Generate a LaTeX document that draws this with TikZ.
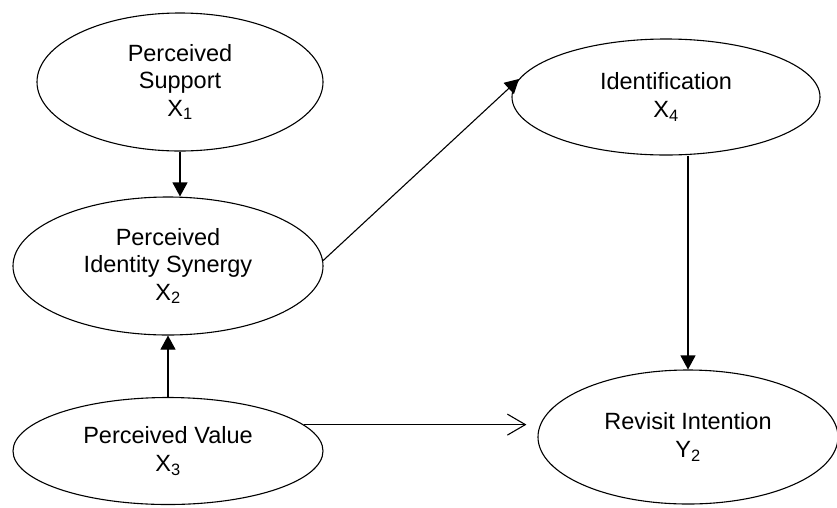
\documentclass[tikz,border=0pt]{standalone}
\usepackage{fontspec}
\setmainfont{Liberation Sans}
\usepackage{tikz}
\usetikzlibrary{positioning}
\usetikzlibrary{shapes,arrows.meta}

\begin{document}
\begin{tikzpicture}[x=1pt,y=-1pt,
  var/.style={draw,ellipse,line width=1.1pt,inner sep=0pt,align=center,
    font=\fontsize{23.5}{27.5}\selectfont},
  arr/.style={line width=1.1pt,-{Triangle[length=14pt,width=15pt]}},
  openarr/.style={line width=1.1pt,-{Straight Barb[length=18pt,width=21pt,line width=1.1pt]}}]
\useasboundingbox (0,0) rectangle (837,507);
\node[var,minimum width=286pt,minimum height=138pt] (x1) at (180,82) {Perceived\\Support\\X\textsubscript{1}};
\node[var,minimum width=310pt,minimum height=138pt] (x2) at (168,266) {Perceived\\Identity Synergy\\X\textsubscript{2}};
\node[var,minimum width=310pt,minimum height=107pt] (x3) at (168,451) {Perceived Value\\X\textsubscript{3}};
\node[var,minimum width=308pt,minimum height=116pt] (x4) at (666,97) {Identification\\X\textsubscript{4}};
\node[var,minimum width=300pt,minimum height=134pt] (y2) at (688,437) {Revisit Intention\\Y\textsubscript{2}};
% paths
\draw[arr] (x1.south) -- (x1.south |- x2.north);
\draw[arr] (x3.north) -- (x2.south);
\draw[arr] (x2.2) -- (x4.173);
\draw[arr] (y2.north |- x4.south) -- (y2.north);
\draw[openarr,shorten >=11pt] (x3.11) -- (x3.11 -| y2.west);
\end{tikzpicture}
\end{document}
